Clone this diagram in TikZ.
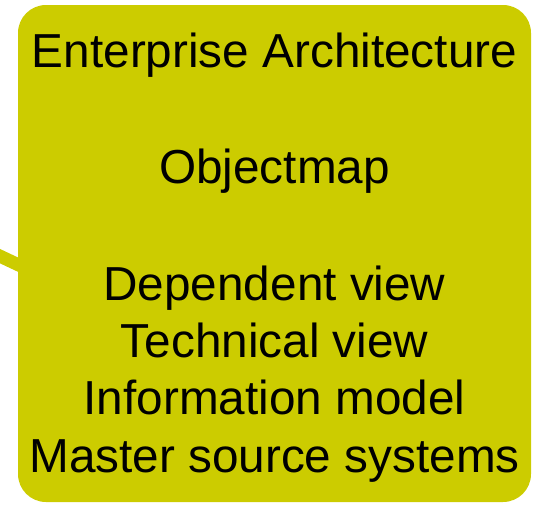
\documentclass[tikz,border=0pt]{standalone}
\usepackage{fontspec}
\setmainfont{Liberation Sans}
\definecolor{eaolive}{RGB}{204,204,0}
\tikzset{
	eabox/.style={fill=eaolive,rounded corners=28pt,inner sep=0pt,minimum width=513pt,minimum height=497pt},
	ealine/.style={anchor=base,inner sep=0pt,font=\fontsize{47.7}{58}\selectfont},
}
\begin{document}
\begin{tikzpicture}[x=1pt,y=1pt]
	\useasboundingbox (0,0) rectangle (535,-504);
	\coordinate (feed) at (-30,-242);
	\coordinate (entry) at (40,-275);
	\draw[eaolive,line width=13pt] (feed) -- (entry);
	\node[eabox] (ea) at (274.5,-253.5) {};
	\foreach \txt/\yb [count=\i] in {Enterprise Architecture/67,Objectmap/183,Dependent view/300,Technical view/357,Information model/414,Master source systems/472}
		\node[ealine] (line\i) at (274.5,-\yb) {\txt};
\end{tikzpicture}
\end{document}
